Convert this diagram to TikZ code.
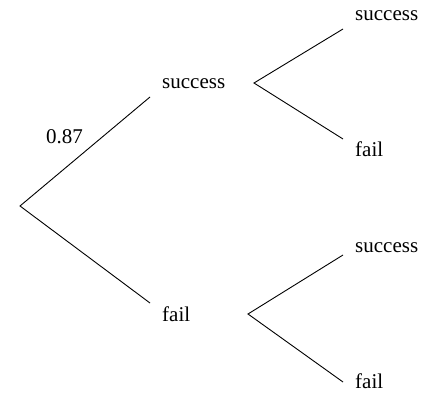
\documentclass[tikz,border=0pt]{standalone}
\usepackage{fontspec}
\setmainfont{Liberation Serif}
\tikzset{
  branch/.style={line width=0.9pt},
  outcome/.style={anchor=base west, inner sep=0pt, font=\fontsize{21}{25}\selectfont},
}
\begin{document}
\begin{tikzpicture}[x=1pt,y=-1pt]
                \useasboundingbox (0,0) rectangle (423,393);
                
                % Points of the tree
                \coordinate (root) at (20,206);%
                \coordinate (sEnd) at (150,97);%
                \coordinate (fEnd) at (150,303);%
                \coordinate (sFork) at (254,83);%
                \coordinate (ssEnd) at (343,29);%
                \coordinate (sfEnd) at (343,139);%
                \coordinate (fFork) at (248,314);%
                \coordinate (fsEnd) at (343,255);%
                \coordinate (ffEnd) at (343,382);%
                
                % Drawing first stage
                \draw [branch] (sEnd) -- (root) -- (fEnd);%
                
                % Drawing second stage after success
                \draw [branch] (ssEnd) -- (sFork) -- (sfEnd);%
                
                % Drawing second stage after fail
                \draw [branch] (fsEnd) -- (fFork) -- (ffEnd);%
                
                % Labels of the outcomes
                \node [outcome] (s) at (162,89) {success};%
                \node [outcome] (f) at (162,321) {fail};%
                \node [outcome] (ss) at (355,21) {success};%
                \node [outcome] (sf) at (355,157) {fail};%
                \node [outcome] (fs) at (355,252) {success};%
                \node [outcome] (ff) at (355,388) {fail};%
                
                % Probability on the upper branch
                \node [outcome] (p) at (46,143) {0.87};%
\end{tikzpicture}
\end{document}
